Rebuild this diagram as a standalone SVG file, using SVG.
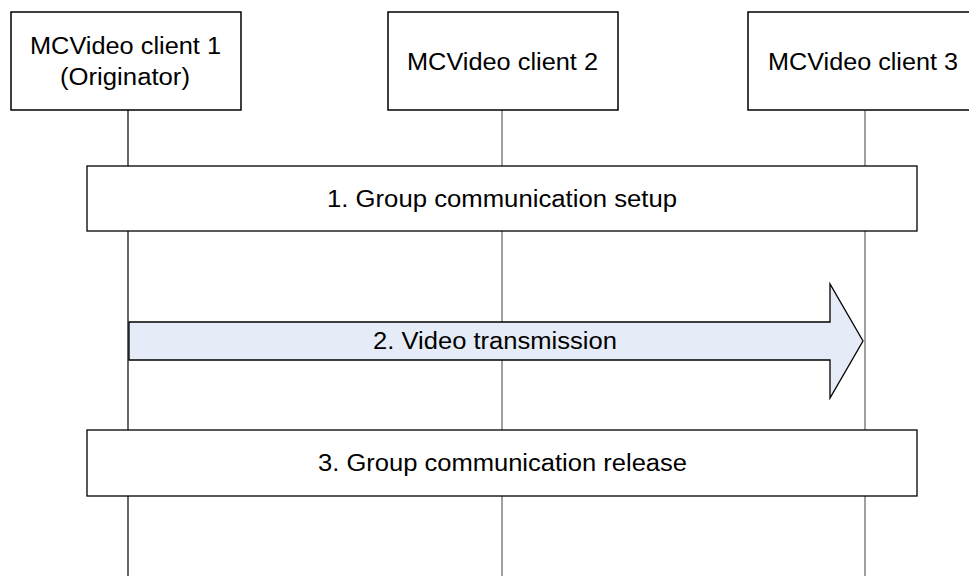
<svg xmlns="http://www.w3.org/2000/svg" width="969" height="576" viewBox="0 0 969 576">
<style>
text{font-family:"Liberation Sans",Arial,sans-serif;font-size:23px;fill:#000}
.box{fill:#fff;stroke:#000;stroke-width:1.5}
.life{stroke:#808080;stroke-width:1.5;fill:none}
.life1{stroke:#000;stroke-width:1.2;fill:none}
.bar{fill:#fff;stroke:#000;stroke-width:1.3}
</style>
<rect width="969" height="576" fill="#fff"/>
<g id="lifelines">
<line class="life1" x1="128" y1="110" x2="128" y2="576"/>
<line class="life" x1="502" y1="110" x2="502" y2="576"/>
<line class="life" x1="865" y1="110" x2="865" y2="576"/>
</g>
<g id="client1">
<rect class="box" x="11" y="12" width="230" height="98"/>
<text x="30" y="54" textLength="191" lengthAdjust="spacingAndGlyphs">MCVideo client 1</text>
<text x="60" y="85" textLength="130" lengthAdjust="spacingAndGlyphs">(Originator)</text>
</g>
<g id="client2">
<rect class="box" x="388" y="12" width="230" height="98"/>
<text x="407" y="70" textLength="191" lengthAdjust="spacingAndGlyphs">MCVideo client 2</text>
</g>
<g id="client3">
<rect class="box" x="748" y="12" width="230" height="98"/>
<text x="768" y="70" textLength="190" lengthAdjust="spacingAndGlyphs">MCVideo client 3</text>
</g>
<g id="step1">
<rect class="bar" x="87" y="166" width="830" height="65"/>
<text x="327" y="207" textLength="350" lengthAdjust="spacingAndGlyphs">1. Group communication setup</text>
</g>
<g id="step2">
<polygon points="129,322 830,322 830,284 863,341 830,398 830,360 129,360" fill="#e5ecf7" stroke="#000" stroke-width="1.3"/>
<text x="373" y="349" textLength="244" lengthAdjust="spacingAndGlyphs">2. Video transmission</text>
</g>
<g id="step3">
<rect class="bar" x="87" y="430" width="830" height="66"/>
<text x="318" y="471" textLength="369" lengthAdjust="spacingAndGlyphs">3. Group communication release</text>
</g>
</svg>
